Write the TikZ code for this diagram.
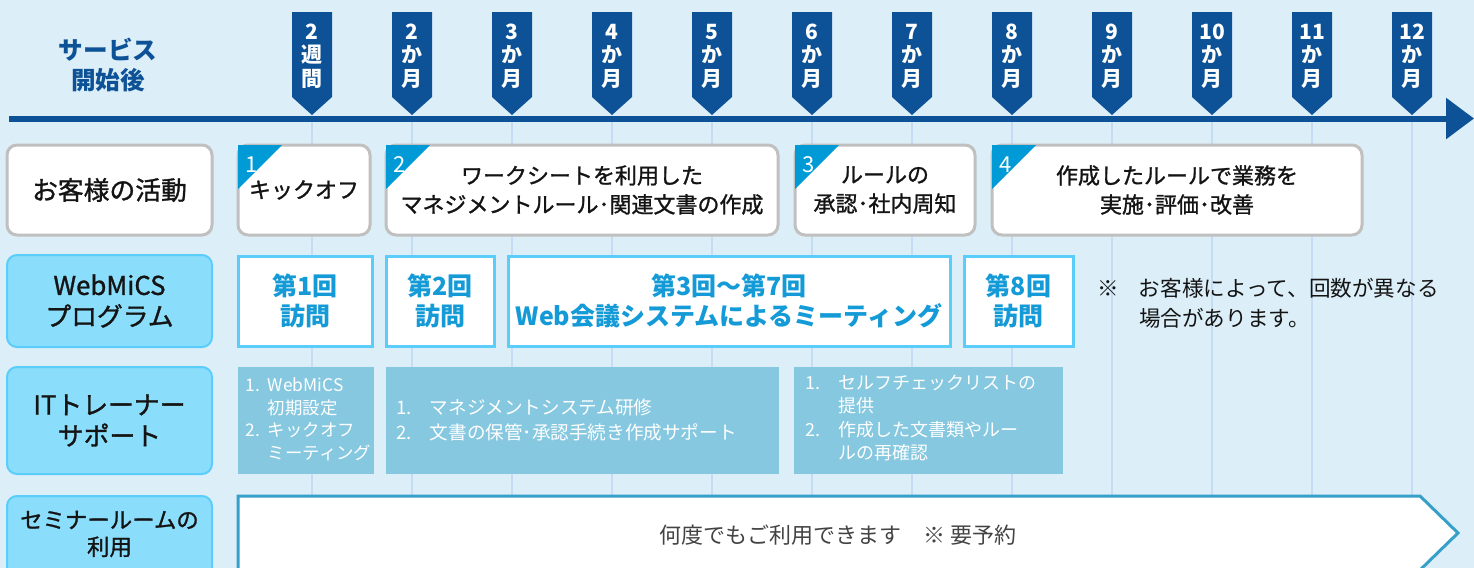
\documentclass[tikz,border=0pt]{standalone}
\usepackage{fontspec}
\setmainfont{Noto Sans CJK JP}
\newfontfamily\sedang[FakeBold=1.2]{Noto Sans CJK JP}
\usetikzlibrary{arrows.meta}
\definecolor{latar}{RGB}{220,238,248}
\definecolor{navy}{RGB}{13,82,150}
\definecolor{garisgrid}{RGB}{198,220,244}
\definecolor{segitiga}{RGB}{0,155,215}
\definecolor{abu}{RGB}{192,192,192}
\definecolor{labelisi}{RGB}{138,222,252}
\definecolor{labeltepi}{RGB}{90,205,250}
\definecolor{kunjungan}{RGB}{20,155,215}
\definecolor{dukungan}{RGB}{133,200,224}
\definecolor{seminar}{RGB}{55,160,200}
\definecolor{teks}{RGB}{20,20,20}
\begin{document}
\begin{tikzpicture}[x=0.5pt,y=-0.5pt,
    rowbox/.style={rounded corners=5pt, minimum width=102.5pt, align=center, text=teks,
        font=\fontsize{12.9}{15.5}\sedang},
    rowwhite/.style={rowbox, draw=abu, line width=1.5pt, fill=white},
    rowblue/.style={rowbox, draw=labeltepi, line width=1pt, fill=labelisi},
    actbox/.style={draw=abu, line width=1.5pt, fill=white, rounded corners=5pt, minimum height=45pt,
        align=center, text=teks, font=\fontsize{11}{14.5}\sedang},
    visitbox/.style={draw=labeltepi, line width=1.5pt, fill=white, minimum height=45pt,
        align=center, text=kunjungan, font=\fontsize{12.5}{15}\selectfont\bfseries},
    supbox/.style={fill=dukungan, minimum height=53.5pt},
    suptext/.style={anchor=west, inner sep=0pt, text=white},
    marktext/.style={text=white, align=center, inner sep=0pt, font=\fontsize{10.5}{11.7}\selectfont\bfseries}]

    % Latar
    \clip (0,0) rectangle (1474,568);
    \fill[latar] (0,0) rectangle (1474,568);

    % Garis grid dan penanda waktu
    \foreach \k/\n/\a/\b in {0/2/週/間,1/2/か/月,2/3/か/月,3/4/か/月,4/5/か/月,5/6/か/月,
        6/7/か/月,7/8/か/月,8/9/か/月,9/10/か/月,10/11/か/月,11/12/か/月}
        \draw[garisgrid, line width=1pt] (312+100*\k,122) -- (312+100*\k,568);
    \draw[navy, line width=3pt, -{Triangle[length=14pt,width=20pt]}] (9,118.5) -- (1474,118.5);
    \foreach \k/\n/\a/\b in {0/2/週/間,1/2/か/月,2/3/か/月,3/4/か/月,4/5/か/月,5/6/か/月,
        6/7/か/月,7/8/か/月,8/9/か/月,9/10/か/月,10/11/か/月,11/12/か/月}{
        \fill[navy] (292+100*\k,12) -- (332+100*\k,12) -- (332+100*\k,97)
            -- (312+100*\k,115) -- (292+100*\k,97) -- cycle;
        \node[marktext] (m\k) at (312+100*\k,56) {\n\\\a\\\b};
    }
    \node[text=navy, align=center, font=\fontsize{12.3}{15}\selectfont\bfseries] (mulai) at (108,65)
        {サービス\\開始後};

    % Label baris
    \node[rowwhite, minimum height=45pt] (row1) at (109.5,190) {お客様の活動};
    \node[rowblue, minimum height=46pt] (row2) at (109.5,301) {WebMiCS\\プログラム};
    \node[rowblue, minimum height=53.5pt] (row3) at (109.5,420.5) {ITトレーナー\\サポート};
    \node[rowblue, minimum height=42pt] (row4) at (109.5,538) {};
    \node[text=teks, align=center, font=\fontsize{11.2}{13.5}\sedang] (row4t) at (109.5,534)
        {セミナールームの\\利用};

    % Aktivitas pelanggan
    \node[actbox, minimum width=66pt] (act1) at (304,190) {キックオフ};
    \node[actbox, minimum width=196pt] (act2) at (582,190) {ワークシートを利用した\\マネジメントルール･関連文書の作成};
    \node[actbox, minimum width=90pt] (act3) at (885,190) {ルールの\\承認･社内周知};
    \node[actbox, minimum width=185pt] (act4) at (1177,190) {作成したルールで業務を\\実施･評価･改善};
    \foreach \i in {1,...,4}{
        \fill[segitiga] ([shift={(1.5,1.5)}]act\i.north west) -- ++(44,0) -- ++(-44,44) -- cycle;
        \node[text=white, inner sep=0pt, font=\fontsize{11}{11}\selectfont] (n\i)
            at ([shift={(15,21)}]act\i.north west) {\i};
    }

    % Program WebMiCS
    \node[visitbox, minimum width=67pt] (v1) at (305,301) {第1回\\訪問};
    \node[visitbox, minimum width=54pt] (v2) at (440,301) {第2回\\訪問};
    \node[visitbox, minimum width=221pt] (v3) at (729,301) {第3回〜第7回\\Web会議システムによるミーティング};
    \node[visitbox, minimum width=54.5pt] (v8) at (1018.5,301) {第8回\\訪問};
    \node[anchor=west, inner sep=0pt, text=teks, font=\fontsize{10.8}{15}\selectfont] (catatan) at (1097,305)
        {\begin{tabular}{@{}l@{\hspace{10pt}}l@{}}※ & お客様によって、回数が異なる\\ & 場合があります。\end{tabular}};

    % Dukungan IT trainer
    \node[supbox, minimum width=68pt] (s1) at (306,420.5) {};
    \node[supbox, minimum width=196.5pt] (s2) at (582.5,420.5) {};
    \node[supbox, minimum width=134.5pt] (s3) at (928.5,420.5) {};
    \node[suptext, font=\fontsize{8.7}{11.2}\selectfont] (s1t) at (245,421)
        {\begin{tabular}{@{}l@{\hspace{4pt}}l@{}}1. & WebMiCS\\ & 初期設定\\2. & キックオフ\\ & ミーティング\end{tabular}};
    \node[suptext, font=\fontsize{9.3}{12.5}\selectfont] (s2t) at (396,422)
        {\begin{tabular}{@{}l@{\hspace{9pt}}l@{}}1. & マネジメントシステム研修\\2. & 文書の保管･承認手続き作成サポート\end{tabular}};
    \node[suptext, font=\fontsize{9}{11.7}\selectfont] (s3t) at (805,420)
        {\begin{tabular}{@{}l@{\hspace{9pt}}l@{}}1. & セルフチェックリストの\\ & 提供\\2. & 作成した文書類やルー\\ & ルの再確認\end{tabular}};

    % Ruang seminar
    \draw[seminar, line width=1.5pt, fill=white] (238,496) -- (1420,496) -- (1458,533)
        -- (1420,570) -- (238,570) -- cycle;
    \node[text=teks!80, font=\fontsize{11}{12}\selectfont] (sem) at (838,535)
        {何度でもご利用できます\hspace{1em}※ 要予約};
\end{tikzpicture}
\end{document}
